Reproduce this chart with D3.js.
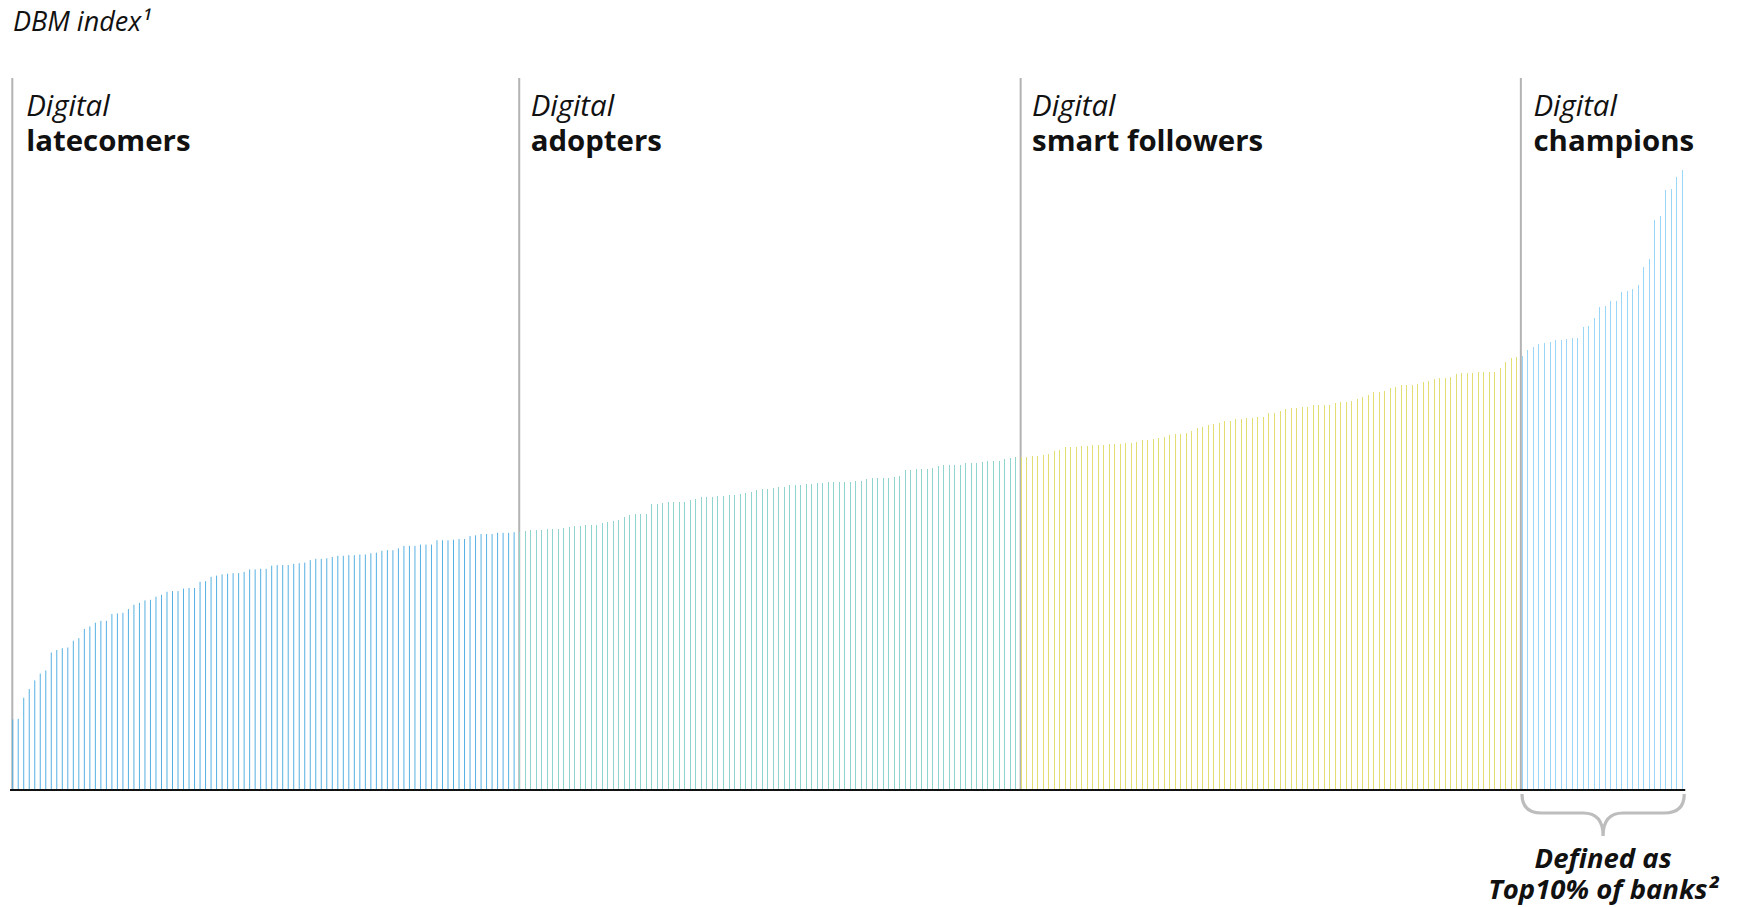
<!DOCTYPE html>
<html><head><meta charset="utf-8">
<script src="https://cdn.jsdelivr.net/npm/d3@7"></script>
<style>
body{margin:0;background:#fff}
svg{display:block}
text{font-family:"Open Sans",sans-serif;fill:#111}
</style>
</head><body>
<svg id="chart" width="1749" height="907"></svg>
<script>
// ---- data (DBM index per bank, sorted ascending) ----
const latecomers = [
11.3,11.4,14.8,16.2,17.6,18.7,19.2,22.1,22.5,22.8,
22.9,24.0,24.4,25.9,26.3,26.9,27.2,27.2,28.3,28.4,
28.5,29.1,29.8,30.1,30.5,30.6,31.1,31.4,31.9,32.0,
32.0,32.4,32.5,32.5,33.5,33.6,34.3,34.5,34.7,34.8,
34.9,34.9,35.1,35.5,35.5,35.6,35.6,36.1,36.2,36.2,
36.2,36.4,36.5,36.6,37.0,37.2,37.2,37.3,37.5,37.7,
37.7,37.8,37.8,37.9,37.9,38.1,38.2,38.5,38.6,38.6,
38.9,39.3,39.3,39.3,39.5,39.5,39.5,40.2,40.2,40.2,
40.3,40.4,40.4,40.9,41.0,41.2,41.2,41.2,41.4,41.4,
41.4,41.5];
const adopters = [
41.5,41.7,41.9,41.9,41.9,42.0,42.0,42.0,
42.2,42.3,42.5,42.5,42.7,42.7,42.7,43.0,43.1,43.3,
43.5,44.0,44.3,44.4,44.4,44.4,46.0,46.0,46.2,46.4,
46.4,46.4,46.4,46.7,46.9,47.2,47.2,47.2,47.3,47.3,
47.5,47.5,47.7,47.8,48.0,48.3,48.5,48.5,48.6,48.8,
48.8,49.1,49.1,49.1,49.3,49.3,49.4,49.4,49.6,49.6,
49.6,49.6,49.6,49.8,49.8,50.1,50.2,50.2,50.2,50.2,
50.4,50.6,51.5,51.5,51.7,51.7,51.7,51.9,52.2,52.3,
52.3,52.3,52.3,52.7,52.7,52.7,52.8,53.0,53.0,53.0,
53.3,53.5,53.6];
const smartFollowers = [
53.6,53.6,53.8,53.8,54.0,54.1,54.6,
54.8,55.2,55.2,55.2,55.4,55.4,55.6,55.6,55.6,55.7,
55.7,55.7,55.9,55.9,56.0,56.4,56.4,56.5,56.7,56.9,
57.2,57.3,57.3,57.5,57.8,58.3,58.5,58.8,59.0,59.1,
59.4,59.4,59.8,59.8,59.9,59.9,60.1,60.1,60.7,60.7,
61.0,61.4,61.5,61.5,61.7,61.7,62.0,62.0,62.0,62.0,
62.3,62.5,62.5,62.7,63.0,63.3,63.6,64.1,64.1,64.3,
64.8,64.9,65.2,65.2,65.2,65.4,65.7,65.9,66.2,66.4,
66.4,66.5,67.0,67.2,67.2,67.2,67.3,67.3,67.3,67.3,
68.0,69.0,69.6,69.8];
const champions = [
69.9,70.9,71.4,71.9,72.0,72.2,72.5,72.5,72.7,72.8,
72.8,74.6,74.8,76.0,77.8,78.0,78.8,78.8,80.2,80.4,
80.7,81.4,84.3,85.6,91.9,92.5,96.7,96.9,98.8,99.9];

const groupLead = ["Digital","Digital","Digital","Digital"];
const groupNames = ["latecomers","adopters","smart followers","champions"];
const groupValues = [latecomers, adopters, smartFollowers, champions];
const titleText = "DBM index\u00B9";
const noteLines = ["Defined as","Top10% of banks\u00B2"];

// ---- styles ----
const groupColors = ["#56B1E3","#8FD4CE","#E3DE72","#9AD6F7"];

const svg = d3.select("#chart");
const data = [];
const starts = [];
groupValues.forEach((vals,g)=>{ starts.push(data.length); vals.forEach(v=>data.push({g, v, i:data.length})); });

const x = d3.scaleBand().domain(d3.range(data.length)).range([9.95,1685]).padding(0);
const cx = i => x(i) + x.bandwidth()/2;
const y = d3.scaleLinear().domain([0,100]).range([789.5,169.5]);

// dividers
svg.append("g").selectAll("line").data(starts).join("line")
  .attr("x1", (s,g)=> cx(s) - (g===3 ? 1.6 : 0.4))
  .attr("x2", (s,g)=> cx(s) - (g===3 ? 1.6 : 0.4))
  .attr("y1", 78).attr("y2", 790)
  .attr("stroke", "#B3B3B3").attr("stroke-width", 2);

// bars
svg.append("g").selectAll("rect").data(data).join("rect")
  .attr("x", d => cx(d.i) - 0.5)
  .attr("width", 1)
  .attr("y", d => y(d.v))
  .attr("height", d => y(0) - y(d.v))
  .attr("fill", d => groupColors[d.g])
  .attr("shape-rendering", d => d.g === 0 ? "auto" : "crispEdges");

// baseline
svg.append("line")
  .attr("x1", 10).attr("x2", cx(data.length-1) + 3)
  .attr("y1", 790).attr("y2", 790)
  .attr("stroke", "#111").attr("stroke-width", 2.2);

// title
svg.append("text").attr("x", 13).attr("y", 31)
  .attr("font-size", 27).attr("font-style", "italic").text(titleText);

// group labels
const lab = svg.append("g").selectAll("g").data(starts).join("g")
  .attr("transform", (s,g)=> `translate(${cx(s) + (g===0 ? 13.5 : 11)},0)`);
lab.append("text").attr("y", 116).attr("font-size", 29.4).attr("font-style","italic")
  .text((s,g)=> groupLead[g]);
lab.append("text").attr("y", 151).attr("font-size", 29.4).attr("font-weight","bold")
  .text((s,g)=> groupNames[g]);

// brace under champions
const bx0 = cx(starts[3]) - 0.5, bx1 = cx(data.length-1) + 2;
const bm = (bx0 + bx1)/2;
const p = d3.path();
p.moveTo(bx0, 794);
p.quadraticCurveTo(bx0, 813, bx0 + 20, 813);
p.lineTo(bm - 20, 813);
p.quadraticCurveTo(bm, 813, bm, 836);
p.quadraticCurveTo(bm, 813, bm + 20, 813);
p.lineTo(bx1 - 20, 813);
p.quadraticCurveTo(bx1, 813, bx1, 794);
svg.append("path").attr("d", p.toString()).attr("fill","none")
  .attr("stroke","#BDBDBD").attr("stroke-width",3.2);

svg.append("g").selectAll("text").data(noteLines).join("text")
  .attr("x", bm).attr("y", (d,k)=> 868 + k*31)
  .attr("text-anchor","middle").attr("font-size", 27.5)
  .attr("font-weight","bold").attr("font-style","italic").text(d=>d);
</script>
</body></html>
